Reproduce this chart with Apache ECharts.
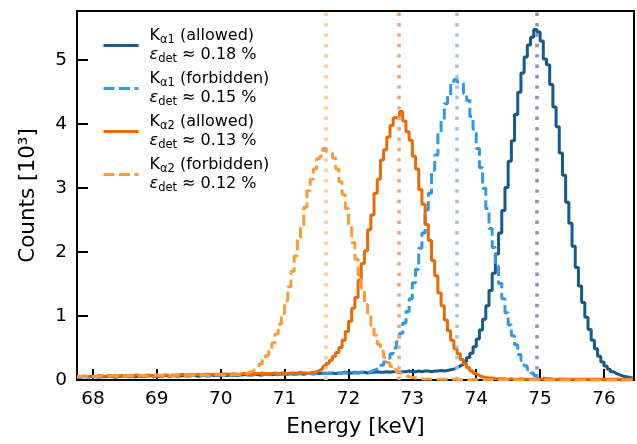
<!DOCTYPE html>
<html><head><meta charset="utf-8">
<script src="https://cdn.jsdelivr.net/npm/echarts@6/dist/echarts.min.js"></script>
<style>html,body{margin:0;padding:0;background:#fff}#c{width:637px;height:444px}</style>
</head><body><div id="c"></div>
<script>
// histogram bins (left edges = binStart + i*binWidth)
const binStart = 67.75;
const binWidth = 0.05;
const xTicks = [68, 69, 70, 71, 72, 73, 74, 75, 76];
const yTicks = [0, 1, 2, 3, 4, 5];
const seriesNames = ['Kα1 (allowed)', 'Kα1 (forbidden)', 'Kα2 (allowed)', 'Kα2 (forbidden)'];
const lineSubs = ['α1', 'α1', 'α2', 'α2'];
const kinds = ['allowed', 'forbidden', 'allowed', 'forbidden'];
const efficiencies = ['0.18', '0.15', '0.13', '0.12'];
const peakCenters = [74.95, 73.70, 72.785, 71.64];

const ka1Allowed = [
0.05,0.06,0.05,0.05,0.06,0.05,0.06,0.06,0.05,0.06,
0.06,0.05,0.06,0.06,0.07,0.06,0.06,0.05,0.06,0.07,
0.06,0.06,0.07,0.06,0.07,0.06,0.07,0.07,0.06,0.07,
0.07,0.06,0.07,0.07,0.08,0.07,0.07,0.06,0.07,0.08,
0.07,0.08,0.07,0.07,0.08,0.08,0.07,0.08,0.08,0.07,
0.08,0.08,0.09,0.08,0.08,0.09,0.08,0.08,0.09,0.09,
0.08,0.09,0.09,0.10,0.09,0.09,0.10,0.09,0.10,0.10,
0.09,0.10,0.10,0.11,0.10,0.10,0.11,0.10,0.11,0.11,
0.10,0.11,0.11,0.12,0.11,0.11,0.12,0.11,0.12,0.12,
0.11,0.12,0.12,0.13,0.12,0.12,0.13,0.12,0.13,0.13,
0.12,0.13,0.13,0.14,0.13,0.13,0.14,0.13,0.14,0.14,
0.13,0.14,0.14,0.15,0.14,0.15,0.16,0.17,0.19,0.22,
0.25,0.29,0.35,0.42,0.52,0.64,0.78,0.95,1.16,1.40,
1.67,1.97,2.30,2.65,3.01,3.42,3.74,4.15,4.50,4.80,
5.05,5.24,5.36,5.48,5.44,5.30,5.02,4.93,4.62,4.27,
3.96,3.55,3.20,2.78,2.45,2.09,1.76,1.47,1.21,0.98,
0.79,0.62,0.49,0.37,0.28,0.22,0.17,0.13,0.10,0.08,
0.06,0.05,0.04,0.03
];
const ka1Forbidden = [
0.04,0.05,0.05,0.04,0.05,0.05,0.04,0.05,0.05,0.05,
0.05,0.04,0.05,0.05,0.06,0.05,0.05,0.06,0.05,0.06,
0.05,0.06,0.06,0.05,0.06,0.06,0.06,0.05,0.06,0.07,
0.06,0.06,0.07,0.06,0.06,0.07,0.07,0.06,0.07,0.07,
0.06,0.07,0.07,0.07,0.08,0.07,0.07,0.08,0.07,0.08,
0.08,0.07,0.08,0.08,0.08,0.09,0.08,0.08,0.09,0.08,
0.09,0.09,0.08,0.09,0.09,0.09,0.10,0.09,0.09,0.10,
0.09,0.10,0.10,0.09,0.10,0.10,0.10,0.11,0.10,0.10,
0.11,0.10,0.11,0.11,0.10,0.11,0.11,0.11,0.12,0.11,
0.12,0.13,0.15,0.17,0.19,0.23,0.28,0.34,0.41,0.50,
0.60,0.73,0.89,1.07,1.27,1.52,1.73,2.06,2.30,2.66,
2.92,3.28,3.52,3.86,4.07,4.32,4.44,4.63,4.70,4.66,
4.64,4.48,4.37,4.12,3.92,3.62,3.32,3.00,2.68,2.37,
2.07,1.78,1.51,1.27,1.05,0.86,0.69,0.55,0.40,0.30,
0.22,0.16,0.11,0.07,0.05,0.03,0.02,0.02,0.01,0.01,
0.01,0.01,0.01,0.00,0.01,0.00,0.00,0.01,0.00,0.00,
0.00,0.00,0.00,0.00,0.00,0.00,0.00,0.00,0.00,0.00,
0.00,0.00,0.00,0.00
];
const ka2Allowed = [
0.05,0.06,0.06,0.05,0.06,0.06,0.07,0.06,0.06,0.07,
0.06,0.07,0.06,0.07,0.07,0.06,0.07,0.07,0.08,0.07,
0.07,0.08,0.07,0.07,0.08,0.07,0.08,0.08,0.07,0.08,
0.08,0.08,0.09,0.08,0.08,0.09,0.08,0.09,0.08,0.09,
0.09,0.08,0.09,0.09,0.09,0.10,0.09,0.09,0.10,0.09,
0.09,0.10,0.10,0.09,0.10,0.10,0.10,0.11,0.10,0.10,
0.10,0.11,0.10,0.11,0.11,0.10,0.11,0.11,0.11,0.12,
0.11,0.11,0.11,0.12,0.13,0.15,0.18,0.22,0.26,0.31,
0.37,0.43,0.51,0.62,0.76,0.92,1.12,1.29,1.56,1.82,
2.02,2.35,2.58,2.92,3.14,3.44,3.60,3.80,3.98,4.10,
4.12,4.20,4.05,3.88,3.75,3.50,3.30,2.98,2.75,2.43,
2.18,1.87,1.63,1.36,1.16,0.94,0.77,0.62,0.49,0.41,
0.32,0.25,0.19,0.14,0.10,0.07,0.05,0.04,0.03,0.03,
0.02,0.02,0.02,0.02,0.01,0.02,0.01,0.01,0.02,0.01,
0.01,0.01,0.01,0.01,0.01,0.01,0.01,0.01,0.01,0.01,
0.01,0.01,0.01,0.01,0.01,0.01,0.01,0.01,0.01,0.01,
0.01,0.01,0.01,0.01,0.01,0.01,0.01,0.01,0.01,0.01,
0.01,0.01,0.01,0.01
];
const ka2Forbidden = [
0.06,0.05,0.06,0.06,0.05,0.06,0.06,0.07,0.06,0.06,
0.07,0.06,0.06,0.07,0.06,0.07,0.07,0.06,0.07,0.07,
0.07,0.06,0.07,0.07,0.08,0.07,0.07,0.08,0.07,0.07,
0.08,0.07,0.08,0.07,0.08,0.08,0.07,0.08,0.08,0.08,
0.07,0.08,0.08,0.09,0.08,0.08,0.09,0.08,0.09,0.09,
0.08,0.09,0.10,0.12,0.14,0.17,0.20,0.25,0.31,0.38,
0.47,0.58,0.72,0.87,1.04,1.24,1.46,1.70,1.94,2.22,
2.42,2.70,2.96,3.14,3.30,3.46,3.50,3.62,3.57,3.54,
3.47,3.30,3.10,2.90,2.68,2.41,2.15,1.89,1.64,1.40,
1.18,1.02,0.85,0.70,0.56,0.45,0.35,0.27,0.21,0.16,
0.12,0.09,0.07,0.05,0.04,0.03,0.02,0.02,0.01,0.02,
0.01,0.01,0.01,0.01,0.01,0.01,0.01,0.01,0.01,0.00,
0.01,0.01,0.00,0.01,0.01,0.00,0.01,0.00,0.01,0.00,
0.01,0.00,0.00,0.01,0.00,0.00,0.01,0.00,0.00,0.00,
0.00,0.00,0.00,0.00,0.00,0.00,0.00,0.00,0.00,0.00,
0.00,0.00,0.00,0.00,0.00,0.00,0.00,0.00,0.00,0.00,
0.00,0.00,0.00,0.00,0.00,0.00,0.00,0.00,0.00,0.00,
0.00,0.00,0.00,0.00
];
const seriesValues = [ka1Allowed, ka1Forbidden, ka2Allowed, ka2Forbidden];

const FONT = 'DejaVu Sans';
const lineColors = ['#18588a', '#3597dd', '#e56b08', '#ff9a3c'];
const lineTypes = ['solid', [11, 4.5], 'solid', [11, 4.5]];
const markColors = ['#8c94b0', '#9dc3e8', '#eda77b', '#ffca96'];

function toSteps(vals) {
  const d = vals.map((v, i) => [binStart + i * binWidth, v]);
  d.push([binStart + vals.length * binWidth, vals[vals.length - 1]]);
  return d;
}

const series = seriesValues.map((vals, k) => ({
  name: seriesNames[k],
  type: 'line',
  step: 'end',
  symbol: 'none',
  showSymbol: false,
  data: toSteps(vals),
  z: 2 + k,
  clip: true,
  animation: false,
  lineStyle: { color: lineColors[k], width: 3, type: lineTypes[k] },
  itemStyle: { color: lineColors[k] },
  emphasis: { disabled: true },
  markLine: {
    silent: true,
    symbol: ['none', 'none'],
    label: { show: false },
    animation: false,
    lineStyle: { color: markColors[k], type: [3.4, 7], width: 3.6, cap: 'butt' },
    data: [{ xAxis: peakCenters[k] }]
  }
}));

const chart = echarts.init(document.getElementById('c'), null, { renderer: 'canvas' });
chart.setOption({
  backgroundColor: '#fff',
  animation: false,
  textStyle: { fontFamily: FONT },
  grid: { left: 77, right: 3, top: 11, bottom: 64, show: true, borderColor: '#000', borderWidth: 2, backgroundColor: 'transparent', containLabel: false, outerBoundsMode: 'none' },
  legend: {
    orient: 'vertical',
    left: 97,
    top: 21,
    itemWidth: 35,
    itemHeight: 14,
    itemGap: 4,
    selectedMode: false,
    data: seriesNames,
    itemStyle: { color: 'rgba(0,0,0,0)', borderColor: 'rgba(0,0,0,0)', borderWidth: 0, opacity: 0 },
    lineStyle: { width: 3 },
    textStyle: {
      fontFamily: FONT, fontSize: 16, color: '#000', padding: [0, 0, 0, 6],
      rich: {
        m: { fontFamily: FONT, fontSize: 16, color: '#000', lineHeight: 19 },
        e: { fontFamily: FONT, fontSize: 16, color: '#000', lineHeight: 19, fontStyle: 'italic' },
        s: { fontFamily: FONT, fontSize: 11.5, color: '#000', lineHeight: 19, padding: [8, 0, 0, 0] }
      }
    },
    formatter: function (name) {
      const k = seriesNames.indexOf(name);
      return '{m|K}{s|' + lineSubs[k] + '}{m| (' + kinds[k] + ')}\n{e|ε}{s|det}{m| ≈ ' + efficiencies[k] + ' %}';
    }
  },
  xAxis: {
    type: 'value', min: 67.75, max: 76.47,
    name: 'Energy [keV]', nameLocation: 'middle', nameGap: 36,
    nameTextStyle: { fontFamily: FONT, fontSize: 21.5, color: '#000' },
    axisLine: { show: true, onZero: false, lineStyle: { color: '#000', width: 2 } },
    axisTick: { show: true, inside: true, length: 11, lineStyle: { color: '#000', width: 2 }, customValues: xTicks },
    axisLabel: { fontFamily: FONT, fontSize: 18.5, color: '#000', margin: 10, customValues: xTicks },
    splitLine: { show: false }
  },
  yAxis: {
    type: 'value', min: 0, max: 5.77,
    name: 'Counts [10³]', nameLocation: 'middle', nameGap: 38, nameRotate: 90,
    nameTextStyle: { fontFamily: FONT, fontSize: 21.5, color: '#000' },
    axisLine: { show: true, onZero: false, lineStyle: { color: '#000', width: 2 } },
    axisTick: { show: true, inside: true, length: 11, lineStyle: { color: '#000', width: 2 }, customValues: yTicks },
    axisLabel: { fontFamily: FONT, fontSize: 18.5, color: '#000', margin: 10, customValues: yTicks },
    splitLine: { show: false }
  },
  series: series
});
</script>
</body></html>
